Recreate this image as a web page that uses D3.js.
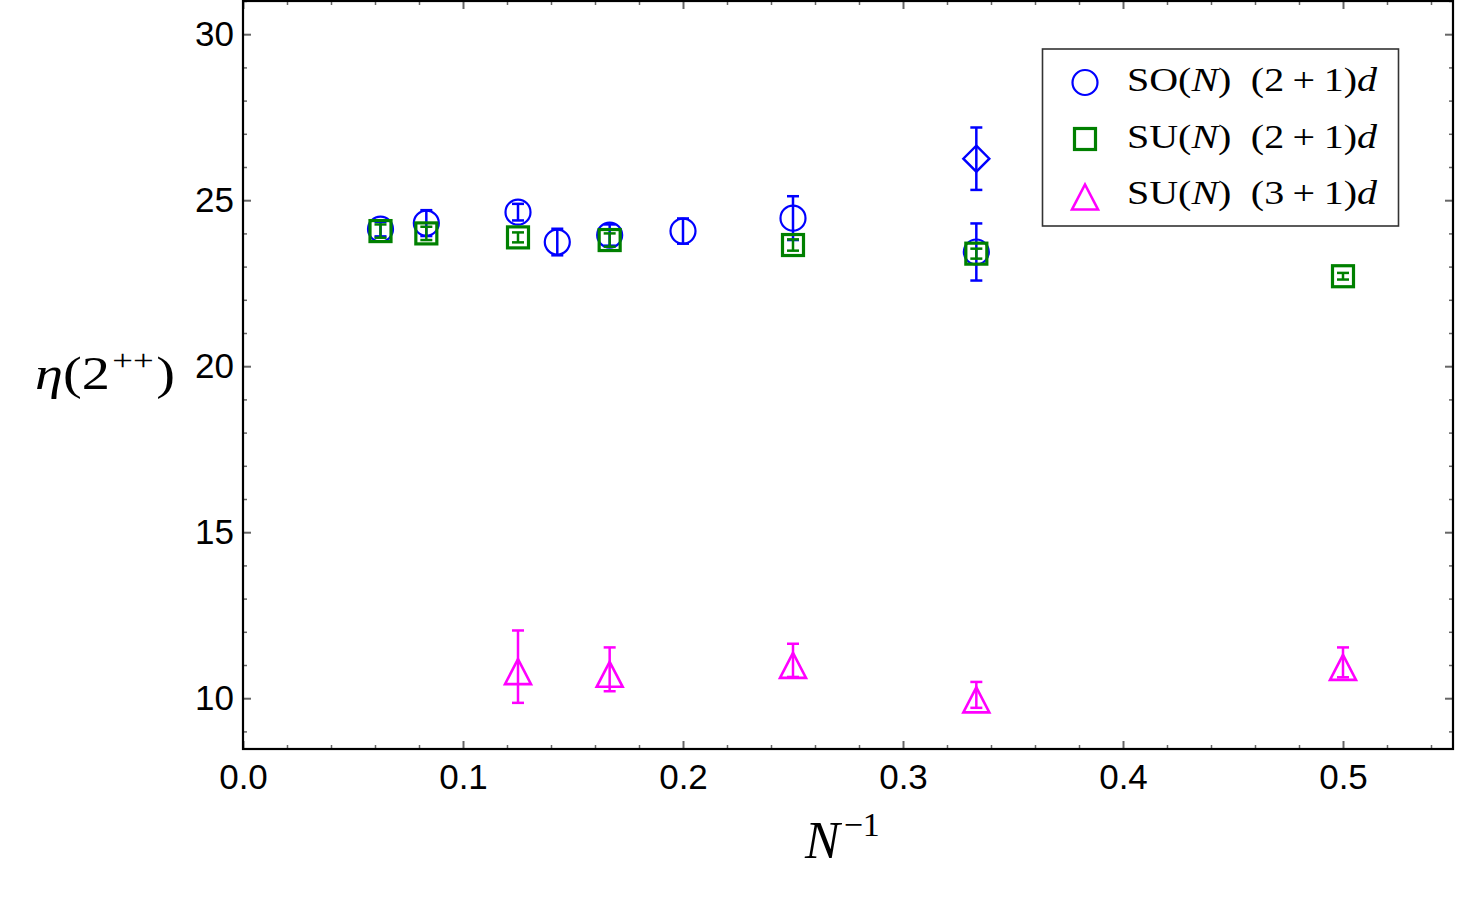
<!DOCTYPE html>
<html>
<head>
<meta charset="utf-8">
<script src="https://cdn.jsdelivr.net/npm/d3@7"></script>
<style>
body{margin:0;background:#fff;}
</style>
</head>
<body>
<svg id="chart" width="1459" height="913"></svg>
<script>
// data (x = 1/N)
const so_invN=[1/16,1/12,1/8,1/7,1/6,1/5,1/4,1/3];
const so_val=[24.13,24.31,24.64,23.74,23.95,24.07,24.46,23.44];
const so_err=[0.22,0.39,0.25,0.4,0.32,0.38,0.66,0.86];

// extra SO(3) point drawn as diamond
const so_diamond_invN=[1/3];
const so_diamond_val=[26.25];
const so_diamond_err=[0.94];

const su3_invN=[1/16,1/12,1/8,1/6,1/4,1/3,1/2];
const su3_val=[24.07,24.0,23.88,23.8,23.65,23.39,22.71];
const su3_err=[0.2,0.2,0.15,0.2,0.17,0.15,0.1];

const su4_invN=[1/8,1/6,1/4,1/3,1/2];
const su4_val=[10.95,10.87,11.14,10.10,11.08];
const su4_err=[1.09,0.66,0.5,0.39,0.45];

const x_ticks=[0,0.1,0.2,0.3,0.4,0.5];
const y_ticks=[10,15,20,25,30];
const legend_labels=["SO(N) (2+1)d","SU(N) (2+1)d","SU(N) (3+1)d"];

const svg=d3.select("#chart");
const plot_left=243,plot_right=1453,plot_top=1,plot_bottom=749;

const x=d3.scaleLinear().domain([0,0.55]).range([plot_left,plot_right]);
const y=d3.scaleLinear().domain([8.47,31]).range([plot_bottom,plot_top]);

svg.append("rect").attr("width",1459).attr("height",913).attr("fill","#fff");

// minor ticks
const x_minor=d3.range(0,0.551,0.02).filter(v=>Math.abs(v*10-Math.round(v*10))>1e-6);
const y_minor=d3.range(9,31.01,1).filter(v=>v%5!==0);

function style_axis(g,width){
    g.select(".domain").remove();
    g.selectAll(".tick line").attr("stroke","#666").attr("stroke-width",width);
}

// bottom
svg.append("g").attr("transform","translate(0,"+plot_bottom+")")
    .call(d3.axisBottom(x).tickValues(x_minor).tickSizeInner(-4).tickSizeOuter(0).tickFormat(""))
    .call(g=>style_axis(g,1.5));
svg.append("g").attr("transform","translate(0,"+plot_bottom+")")
    .call(d3.axisBottom(x).tickValues(x_ticks).tickSizeInner(-8).tickSizeOuter(0).tickPadding(15).tickFormat(d3.format(".1f")))
    .call(g=>style_axis(g,2))
    .call(g=>g.selectAll("text").attr("font-family","'Liberation Sans',Arial,sans-serif").attr("font-size",35).attr("fill","#000"));
// top
svg.append("g").attr("transform","translate(0,"+plot_top+")")
    .call(d3.axisTop(x).tickValues(x_minor).tickSizeInner(-4).tickSizeOuter(0).tickFormat(""))
    .call(g=>style_axis(g,1.5));
svg.append("g").attr("transform","translate(0,"+plot_top+")")
    .call(d3.axisTop(x).tickValues(x_ticks).tickSizeInner(-8).tickSizeOuter(0).tickFormat(""))
    .call(g=>style_axis(g,2));
// left
svg.append("g").attr("transform","translate("+plot_left+",0)")
    .call(d3.axisLeft(y).tickValues(y_minor).tickSizeInner(-4).tickSizeOuter(0).tickFormat(""))
    .call(g=>style_axis(g,1.5));
svg.append("g").attr("transform","translate("+plot_left+",0)")
    .call(d3.axisLeft(y).tickValues(y_ticks).tickSizeInner(-8).tickSizeOuter(0).tickPadding(9))
    .call(g=>style_axis(g,2))
    .call(g=>g.selectAll("text").attr("font-family","'Liberation Sans',Arial,sans-serif").attr("font-size",35).attr("fill","#000"));
// right
svg.append("g").attr("transform","translate("+plot_right+",0)")
    .call(d3.axisRight(y).tickValues(y_minor).tickSizeInner(-4).tickSizeOuter(0).tickFormat(""))
    .call(g=>style_axis(g,1.5));
svg.append("g").attr("transform","translate("+plot_right+",0)")
    .call(d3.axisRight(y).tickValues(y_ticks).tickSizeInner(-8).tickSizeOuter(0).tickFormat(""))
    .call(g=>style_axis(g,2));

// frame
svg.append("rect")
    .attr("x",plot_left).attr("y",plot_top)
    .attr("width",plot_right-plot_left).attr("height",plot_bottom-plot_top)
    .attr("fill","none").attr("stroke","#000").attr("stroke-width",2.2);

// markers
function marker(g,shape,cx,cy,color){
    if(shape==="circle"){
        g.append("circle").attr("cx",cx).attr("cy",cy).attr("r",12.5)
            .attr("fill","none").attr("stroke",color).attr("stroke-width",2.2);
    }else if(shape==="square"){
        g.append("rect").attr("x",cx-10.5).attr("y",cy-10.5).attr("width",21).attr("height",21)
            .attr("fill","none").attr("stroke",color).attr("stroke-width",3.2);
    }else if(shape==="triangle"){
        // glyph sits a bit below the data point, like the original
        const c=cy+5;
        g.append("path")
            .attr("d","M"+cx+","+(c-12.5)+"L"+(cx+13)+","+(c+12.5)+"L"+(cx-13)+","+(c+12.5)+"Z")
            .attr("fill","none").attr("stroke",color).attr("stroke-width",2.6);
    }else if(shape==="diamond"){
        g.append("path")
            .attr("d","M"+cx+","+(cy-13)+"L"+(cx+13)+","+cy+"L"+cx+","+(cy+13)+"L"+(cx-13)+","+cy+"Z")
            .attr("fill","none").attr("stroke",color).attr("stroke-width",2.4);
    }
}

function draw_series(xs,vals,errs,shape,color){
    const g=svg.append("g");
    xs.forEach((xv,i)=>{
        const cx=x(xv);
        const y1=y(vals[i]+errs[i]);
        const y2=y(vals[i]-errs[i]);
        g.append("line").attr("x1",cx).attr("x2",cx).attr("y1",y1).attr("y2",y2)
            .attr("stroke",color).attr("stroke-width",2.5);
        g.append("line").attr("x1",cx-6).attr("x2",cx+6).attr("y1",y1).attr("y2",y1)
            .attr("stroke",color).attr("stroke-width",2.5);
        g.append("line").attr("x1",cx-6).attr("x2",cx+6).attr("y1",y2).attr("y2",y2)
            .attr("stroke",color).attr("stroke-width",2.5);
        marker(g,shape,cx,y(vals[i]),color);
    });
}

draw_series(so_invN,so_val,so_err,"circle","#0000ff");
draw_series(so_diamond_invN,so_diamond_val,so_diamond_err,"diamond","#0000ff");
draw_series(su3_invN,su3_val,su3_err,"square","#008000");
draw_series(su4_invN,su4_val,su4_err,"triangle","#ff00ff");

// text with italic N and d, LaTeX-like spacing (gap carried to next tspan)
function math_label(sel,str){
    const parts=str.split(/(N|d|\+| )/).filter(s=>s!=="");
    let gap=0;
    parts.forEach(p=>{
        if(p===" "){ gap+=16; return; }
        if(p==="+") gap+=7;
        const t=sel.append("tspan").attr("dx",gap).text(p);
        gap=(p==="+")?7:0;
        if(p==="N"||p==="d") t.attr("font-style","italic");
    });
}

// legend
const legend=svg.append("g");
legend.append("rect").attr("x",1042.5).attr("y",49).attr("width",356).attr("height",177)
    .attr("fill","#fff").attr("stroke","#333").attr("stroke-width",1.6);
const legend_shapes=["circle","square","triangle"];
const legend_colors=["#0000ff","#008000","#ff00ff"];
legend_labels.forEach((lab,i)=>{
    const cy=82.5+i*56.5;
    if(legend_shapes[i]==="triangle") marker(legend,"triangle",1085,cy-3.5,legend_colors[i]);
    else marker(legend,legend_shapes[i],1085,cy,legend_colors[i]);
    const t=legend.append("text")
        .attr("x",1127).attr("y",cy+8.5)
        .attr("font-family","'Liberation Serif','Times New Roman',serif")
        .attr("font-size",33)
        .attr("textLength",250).attr("lengthAdjust","spacingAndGlyphs")
        .attr("fill","#000");
    math_label(t,lab);
});

// y axis label  η(2^{++})
const ylab=svg.append("text")
    .attr("x",35).attr("y",389)
    .attr("font-family","'Liberation Serif','Times New Roman',serif")
    .attr("font-size",46).attr("fill","#000")
    .attr("textLength",140).attr("lengthAdjust","spacingAndGlyphs");
ylab.append("tspan").attr("font-style","italic").text("η");
ylab.append("tspan").text("(2");
ylab.append("tspan").attr("dy",-19).attr("dx",2).attr("font-size",30).text("++");
ylab.append("tspan").attr("dy",19).attr("dx",2).text(")");

// x axis label  N^{-1}
const xlab=svg.append("text")
    .attr("x",805).attr("y",858)
    .attr("font-family","'Liberation Serif','Times New Roman',serif")
    .attr("font-size",52).attr("fill","#000");
xlab.append("tspan").attr("font-style","italic").text("N");
xlab.append("tspan").attr("dy",-22).attr("dx",4).attr("font-size",34).text("−1");
</script>
</body>
</html>
